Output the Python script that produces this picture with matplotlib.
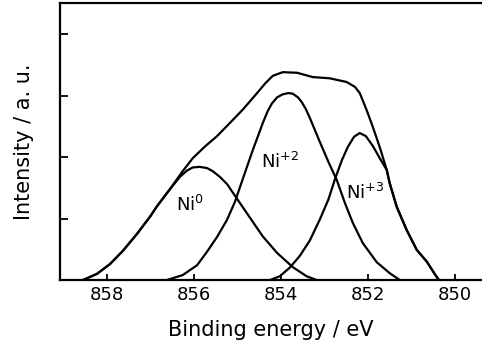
import matplotlib
matplotlib.use("Agg")
import matplotlib.pyplot as plt

# values (binding energy in eV, intensity in a.u.)
env_e = [858.54, 858.22, 857.92, 857.63, 857.30, 857.00, 856.84, 856.54, 856.25, 856.02,
         855.74, 855.46, 855.17, 854.87, 854.54, 854.35, 854.18, 853.95, 853.62, 853.26,
         852.87, 852.48, 852.29, 852.18, 852.02, 851.88, 851.72, 851.56, 851.49, 851.33,
         851.10, 850.87, 850.64, 850.45, 850.36]
env_i = [0.00, 0.10, 0.26, 0.47, 0.75, 1.03, 1.20, 1.48, 1.77, 1.98,
         2.17, 2.34, 2.55, 2.77, 3.04, 3.20, 3.32, 3.38, 3.37, 3.30,
         3.28, 3.22, 3.14, 3.04, 2.76, 2.49, 2.16, 1.79, 1.57, 1.19,
         0.81, 0.49, 0.30, 0.09, 0.00]

ni0_e = [858.54, 858.22, 857.92, 857.63, 857.30, 857.00, 856.84, 856.54, 856.31, 856.15,
         856.02, 855.86, 855.69, 855.56, 855.40, 855.23, 855.01, 854.71, 854.41, 854.08,
         853.72, 853.40, 853.17]
ni0_i = [0.00, 0.10, 0.26, 0.47, 0.75, 1.03, 1.20, 1.48, 1.68, 1.78,
         1.83, 1.84, 1.82, 1.77, 1.68, 1.56, 1.33, 1.02, 0.71, 0.44,
         0.21, 0.06, 0.00]

ni2_e = [856.61, 856.25, 855.92, 855.69, 855.46, 855.23, 855.05, 854.87, 854.64, 854.41,
         854.30, 854.20, 854.08, 853.95, 853.82, 853.72, 853.60, 853.51, 853.42, 853.33,
         853.20, 853.10, 852.90, 852.71, 852.52, 852.34, 852.11, 851.79, 851.49, 851.26]
ni2_i = [0.00, 0.08, 0.24, 0.46, 0.70, 0.98, 1.27, 1.64, 2.11, 2.55,
         2.74, 2.87, 2.97, 3.02, 3.04, 3.03, 2.97, 2.89, 2.78, 2.64,
         2.42, 2.25, 1.92, 1.63, 1.25, 0.93, 0.60, 0.29, 0.11, 0.00]

ni3_e = [854.24, 854.02, 853.79, 853.56, 853.33, 853.10, 852.90, 852.75, 852.59, 852.45,
         852.31, 852.18, 852.04, 851.88, 851.72, 851.56, 851.49, 851.33, 851.10, 850.87,
         850.64, 850.45, 850.36]
ni3_i = [0.00, 0.06, 0.20, 0.39, 0.64, 0.98, 1.31, 1.64, 1.95, 2.17,
         2.33, 2.39, 2.34, 2.18, 1.98, 1.79, 1.57, 1.19, 0.81, 0.49,
         0.30, 0.09, 0.00]

labels = ["Ni$^{0}$", "Ni$^{+2}$", "Ni$^{+3}$"]
label_pos = [(856.09, 1.22), (854.01, 1.92), (852.06, 1.41)]
xticks = [858, 856, 854, 852, 850]

fig = plt.figure(figsize=(4.82, 3.47), dpi=100)
ax = fig.add_axes([0.1245, 0.1931, 0.8755, 0.7974])

for e, i in [(env_e, env_i), (ni0_e, ni0_i), (ni2_e, ni2_i), (ni3_e, ni3_i)]:
    ax.plot(e, i, color="black", lw=1.6, solid_capstyle="round", solid_joinstyle="round")

for lab, (x, y) in zip(labels, label_pos):
    ax.text(x, y, lab, ha="center", va="center", fontsize=13)

ax.set_xlim(859.07, 849.37)
ax.set_ylim(0, 4.5)
ax.set_xticks(xticks)
ax.set_xticklabels([str(t) for t in xticks], fontsize=13)
ax.set_yticks([1, 2, 3, 4])
ax.set_yticklabels([])
ax.tick_params(axis="x", direction="in", length=4.5, width=1.3, pad=4)
ax.tick_params(axis="y", direction="in", length=6, width=1.3)
ax.spines["right"].set_visible(False)
for s in ["left", "top", "bottom"]:
    ax.spines[s].set_linewidth(1.6)

ax.set_xlabel("Binding energy / eV", fontsize=15, labelpad=12)
ax.set_ylabel("Intensity / a. u.", fontsize=15, labelpad=15)

fig.savefig("out.png", dpi=100)
